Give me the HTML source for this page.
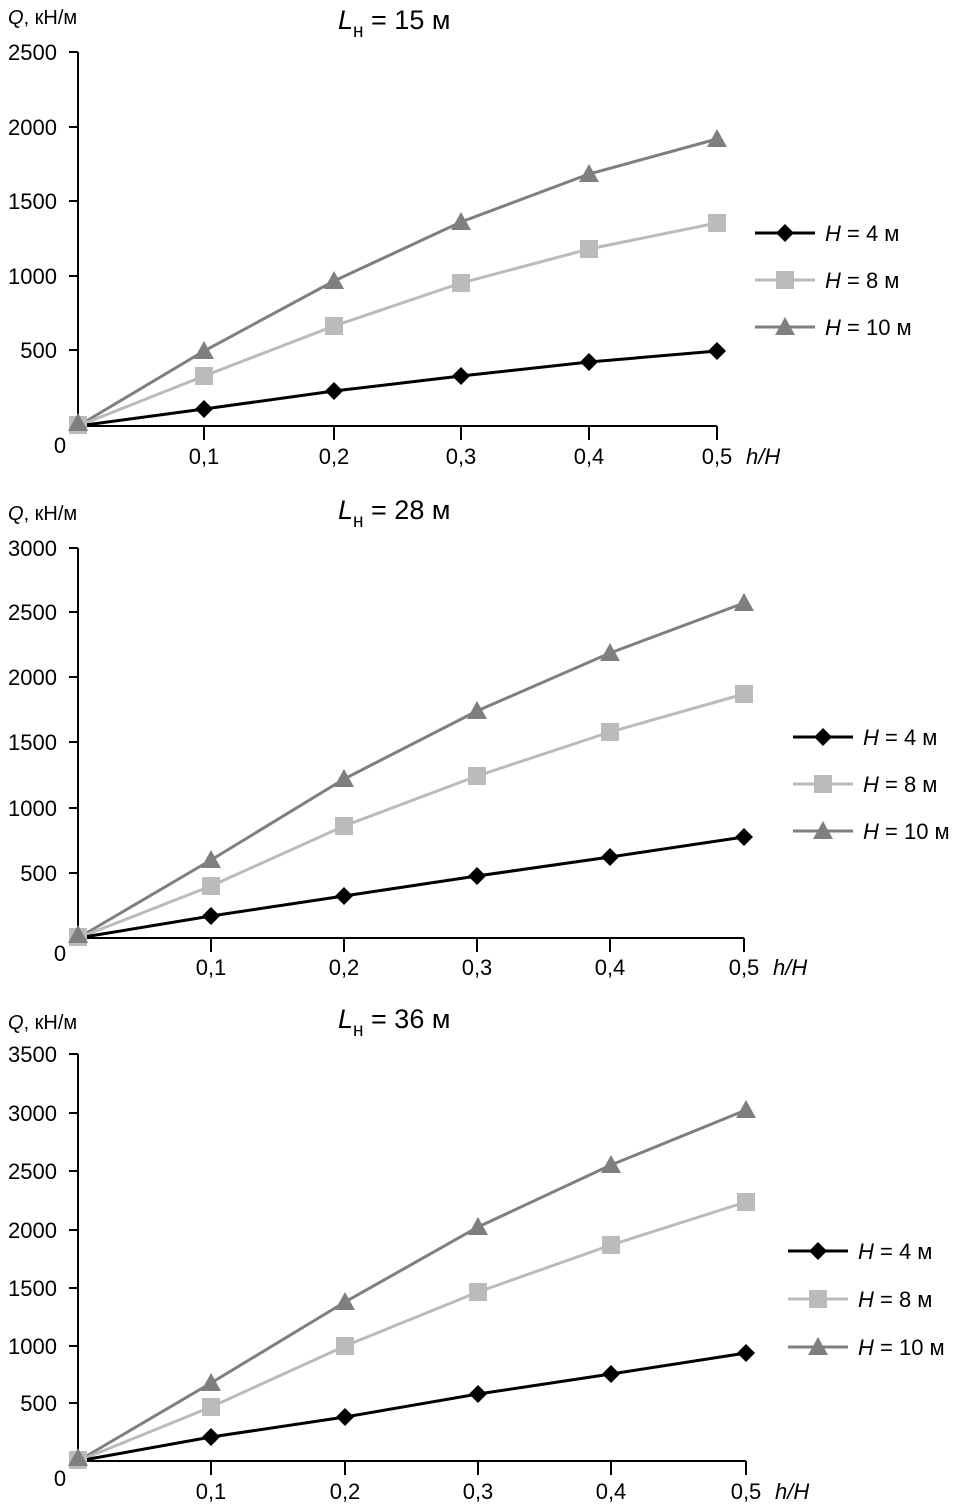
<!DOCTYPE html>
<html><head><meta charset="utf-8"><style>
html,body{margin:0;padding:0;background:#fff;}
svg{display:block;font-family:"Liberation Sans",Arial,sans-serif;}
</style></head><body>
<svg id="s" width="964" height="1504" xmlns="http://www.w3.org/2000/svg"></svg>
<script>
var charts=[
 {title:"15",ty:29,qy:24,top:52,y0:426,xs:[78,204,334,461,589,717],ticks:[[2500,52],[2000,127],[1500,201],[1000,276],[500,350]],
  d:[[409,391,376,362,351],[376,326,283,249,223],[351,281,222,174,139]],lx:755,ly:[233,280,327],xlb:464,zlb:453},
 {title:"28",ty:519,qy:520,top:548,y0:938,xs:[78,211,344,477,610,744],ticks:[[3000,548],[2500,612],[2000,677],[1500,742],[1000,808],[500,873]],
  d:[[916,896,876,857,837],[886,826,776,732,694],[860,779,711,653,603]],lx:793,ly:[737,784,831],xlb:975,zlb:961},
 {title:"36",ty:1028,qy:1029,top:1054,y0:1461,xs:[78,211,345,478,611,746],ticks:[[3500,1054],[3000,1113],[2500,1171],[2000,1230],[1500,1288],[1000,1346],[500,1403]],
  d:[[1437,1417,1394,1374,1353],[1407,1346,1292,1245,1202],[1383,1302,1227,1165,1110]],lx:788,ly:[1251,1299,1347],xlb:1499,zlb:1486}
];
var cols=["#000","#bbb","#7f7f7f"],names=["4","8","10"];
function mk(t,x,y){
 if(t==0)return '<polygon points="'+x+','+(y-9)+' '+(x+9)+','+y+' '+x+','+(y+9)+' '+(x-9)+','+y+'" fill="#000"/>';
 if(t==1)return '<rect x="'+(x-9)+'" y="'+(y-9)+'" width="18" height="18" fill="#bbb"/>';
 return '<polygon points="'+x+','+(y-10)+' '+(x+10)+','+(y+8)+' '+(x-10)+','+(y+8)+'" fill="#7f7f7f"/>';
}
var h='';
charts.forEach(function(c){
 h+='<text x="8" y="'+c.qy+'" font-size="20"><tspan font-style="italic">Q</tspan>, кН/м</text>';
 h+='<text x="338" y="'+c.ty+'" font-size="27"><tspan font-style="italic">L</tspan><tspan font-size="19" dy="8">н</tspan><tspan dy="-8"> = '+c.title+' м</tspan></text>';
 h+='<line x1="78" y1="'+c.top+'" x2="78" y2="'+c.y0+'" stroke="#000" stroke-width="2"/>';
 h+='<line x1="77" y1="'+c.y0+'" x2="'+c.xs[5]+'" y2="'+c.y0+'" stroke="#000" stroke-width="2"/>';
 c.ticks.forEach(function(t){
  h+='<line x1="69" y1="'+t[1]+'" x2="78" y2="'+t[1]+'" stroke="#000" stroke-width="2"/>';
  h+='<text x="57" y="'+(t[1]+8)+'" font-size="22" text-anchor="end">'+t[0]+'</text>';
 });
 h+='<text x="60" y="'+c.zlb+'" font-size="22" text-anchor="middle">0</text>';
 for(var i=1;i<=5;i++){
  h+='<line x1="'+c.xs[i]+'" y1="'+c.y0+'" x2="'+c.xs[i]+'" y2="'+(c.y0+14)+'" stroke="#000" stroke-width="2"/>';
  h+='<text x="'+c.xs[i]+'" y="'+c.xlb+'" font-size="22" text-anchor="middle">0,'+i+'</text>';
 }
 h+='<text x="'+(c.xs[5]+29)+'" y="'+c.xlb+'" font-size="22" font-style="italic">h/H</text>';
 for(var s=2;s>=0;s--){
  var p=c.xs[0]+','+c.y0;
  for(var i=0;i<5;i++)p+=' '+c.xs[i+1]+','+c.d[s][i];
  h+='<polyline points="'+p+'" fill="none" stroke="'+cols[s]+'" stroke-width="3"/>';
 }
 for(var s=0;s<3;s++){
  for(var i=0;i<5;i++)h+=mk(s,c.xs[i+1],c.d[s][i]);
 }
 h+=mk(1,78,c.y0-1);h+=mk(2,78,c.y0-3);
 for(var s=0;s<3;s++){
  var y=c.ly[s];
  h+='<line x1="'+c.lx+'" y1="'+y+'" x2="'+(c.lx+60)+'" y2="'+y+'" stroke="'+cols[s]+'" stroke-width="3"/>';
  h+=mk(s,c.lx+30,y);
  h+='<text x="'+(c.lx+70)+'" y="'+(y+8)+'" font-size="22"><tspan font-style="italic">H</tspan> = '+names[s]+' м</text>';
 }
});
document.getElementById('s').innerHTML=h;
</script>
</body></html>
